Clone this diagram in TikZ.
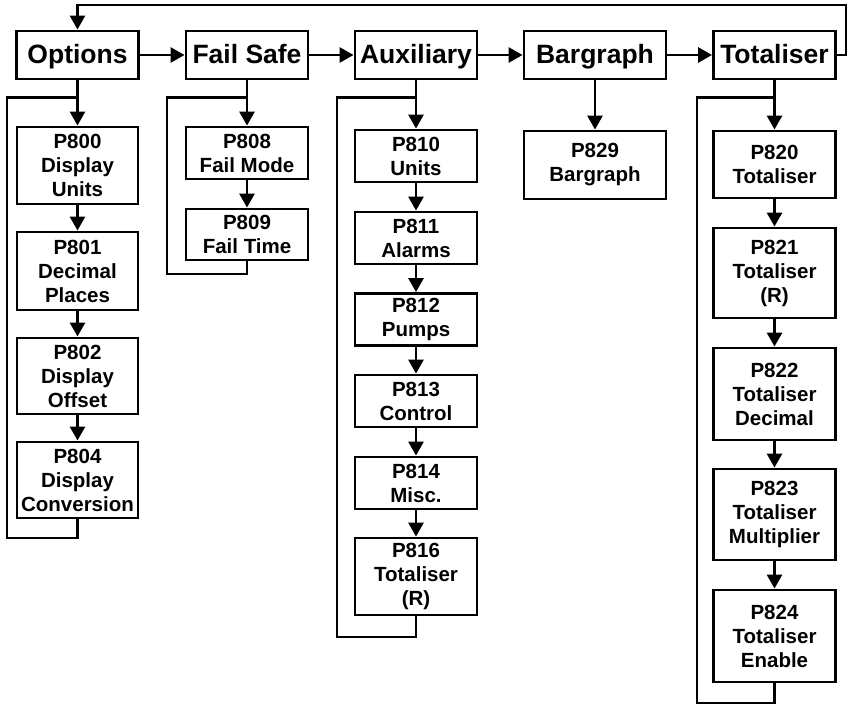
\documentclass[tikz,border=0pt]{standalone}
\usepackage{fontspec}
\setmainfont{Liberation Sans}
\usetikzlibrary{arrows.meta}

\begin{document}
\begin{tikzpicture}[x=1pt, y=-1pt, line width=2.9pt,
  arr/.style={-{Triangle[length=14pt,width=15pt]}},
  mainbox/.style={draw, line width=2.9pt, minimum width=122pt, minimum height=48pt, inner sep=1pt, text height=18.5pt, text depth=1pt, font=\fontsize{26.5}{28}\selectfont\bfseries},
  parbox/.style={draw, line width=2.9pt, align=center, minimum width=122pt, inner sep=1pt, font=\fontsize{20.5}{24}\selectfont\bfseries}]
\useasboundingbox (0,0) rectangle (848,705);
% main menu row
\node[mainbox] (options) at (77.5,55) {Options};
\node[mainbox] (failsafe) at (247,55) {Fail Safe};
\node[mainbox] (auxiliary) at (416,55) {Auxiliary};
\node[mainbox, minimum width=142pt] (bargraph) at (595,55) {Bargraph};
\node[mainbox] (totaliser) at (774.5,55) {Totaliser};
% options column
\node[parbox, minimum width=121pt, minimum height=77pt] (p800) at (77.5,165.5) {P800\\Display\\Units};
\node[parbox, minimum width=121pt, minimum height=78pt] (p801) at (77.5,271) {P801\\Decimal\\Places};
\node[parbox, minimum width=121pt, minimum height=76pt] (p802) at (77.5,376) {P802\\Display\\Offset};
\node[parbox, minimum width=121pt, minimum height=76pt] (p804) at (77.5,480) {P804\\Display\\Conversion};
% fail safe column
\node[parbox, minimum height=52pt] (p808) at (247,153) {P808\\Fail Mode};
\node[parbox, minimum height=51pt] (p809) at (247,234.5) {P809\\Fail Time};
% auxiliary column
\node[parbox, minimum height=52pt] (p810) at (416,156) {P810\\Units};
\node[parbox, minimum height=52pt] (p811) at (416,238) {P811\\Alarms};
\node[parbox, minimum height=52pt] (p812) at (416,319.5) {P812\\Pumps};
\node[parbox, minimum height=52pt] (p813) at (416,401) {P813\\Control};
\node[parbox, minimum height=52pt] (p814) at (416,483) {P814\\Misc.};
\node[parbox, minimum height=77pt] (p816) at (416,576.5) {P816\\Totaliser\\(R)};
% bargraph column
\node[parbox, minimum width=142pt, minimum height=68pt] (p829) at (595,165) {P829\\Bargraph};
% totaliser column
\node[parbox, minimum height=67pt] (p820) at (774.5,164.5) {P820\\Totaliser};
\node[parbox, minimum height=90pt] (p821) at (774.5,273) {P821\\Totaliser\\(R)};
\node[parbox, minimum height=92pt] (p822) at (774.5,394) {P822\\Totaliser\\Decimal};
\node[parbox, minimum height=91pt] (p823) at (774.5,514.5) {P823\\Totaliser\\Multiplier};
\node[parbox, minimum height=92pt] (p824) at (774.5,636) {P824\\Totaliser\\Enable};
% loop corners
\coordinate (optloop) at (7,538);
\coordinate (failloop) at (167,274);
\coordinate (auxloop) at (337,637);
\coordinate (totloop) at (697,703);
\coordinate (topright) at (846,5);
% main row arrows
\draw[arr] (options) -- (failsafe);
\draw[arr] (failsafe) -- (auxiliary);
\draw[arr] (auxiliary) -- (bargraph);
\draw[arr] (bargraph) -- (totaliser);
\draw[arr] (totaliser.east) -| (topright) -| (options.north);
% column arrows
\draw[arr] (options) -- (p800);
\draw[arr] (p800) -- (p801);
\draw[arr] (p801) -- (p802);
\draw[arr] (p802) -- (p804);
\draw (p804.south) |- (optloop) |- ([yshift=-17pt]options.south);
\draw[arr] (failsafe) -- (p808);
\draw[arr] (p808) -- (p809);
\draw (p809.south) |- (failloop) |- ([yshift=-17pt]failsafe.south);
\draw[arr] (auxiliary) -- (p810);
\draw[arr] (p810) -- (p811);
\draw[arr] (p811) -- (p812);
\draw[arr] (p812) -- (p813);
\draw[arr] (p813) -- (p814);
\draw[arr] (p814) -- (p816);
\draw (p816.south) |- (auxloop) |- ([yshift=-17pt]auxiliary.south);
\draw[arr] (bargraph) -- (p829);
\draw[arr] (totaliser) -- (p820);
\draw[arr] (p820) -- (p821);
\draw[arr] (p821) -- (p822);
\draw[arr] (p822) -- (p823);
\draw[arr] (p823) -- (p824);
\draw (p824.south) |- (totloop) |- ([yshift=-17pt]totaliser.south);
\end{tikzpicture}
\end{document}
